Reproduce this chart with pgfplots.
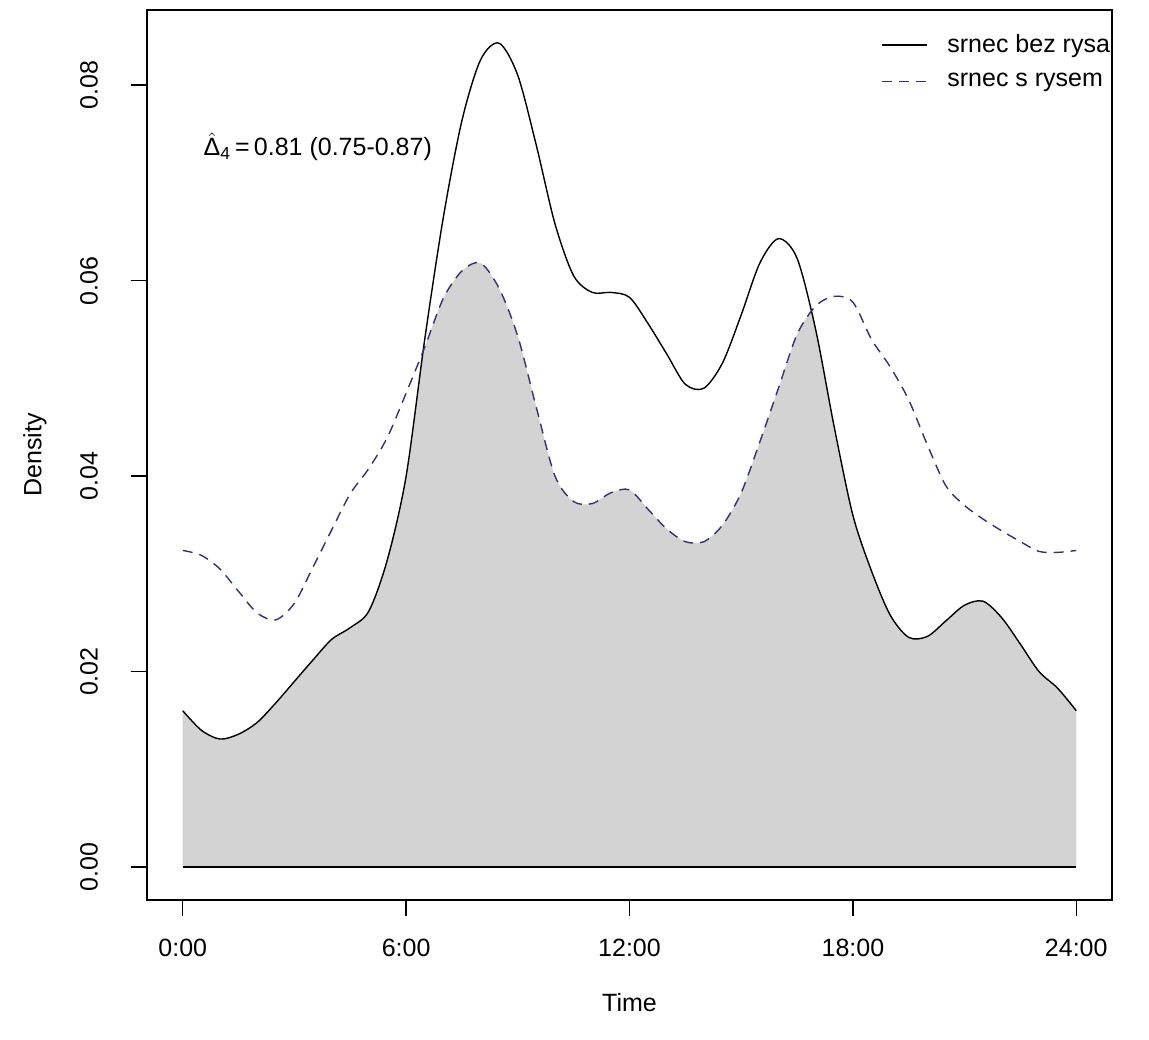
\documentclass[border=0pt]{standalone}
\usepackage{fontspec}
\setmainfont{Liberation Sans}
\usepackage{amsmath}
\usepackage{pgfplots}
\pgfplotsset{compat=1.18}
\usepackage{pgfplotstable}

% srnec bez rysa (solid)
\pgfplotstableread{
x y
0.0 0.0160
0.5 0.0140
1.0 0.0131
1.5 0.0136
2.0 0.0148
2.5 0.0168
3.0 0.0190
3.5 0.0212
4.0 0.0233
4.5 0.0245
5.0 0.0262
5.5 0.0315
6.0 0.0400
6.5 0.0540
7.0 0.0665
7.5 0.0764
8.0 0.0826
8.5 0.0843
9.0 0.0810
9.5 0.0738
10.0 0.0658
10.5 0.0605
11.0 0.0588
11.5 0.0588
12.0 0.0583
12.5 0.0556
13.0 0.0525
13.5 0.0494
14.0 0.0490
14.5 0.0516
15.0 0.0565
15.5 0.0618
16.0 0.0643
16.5 0.0623
17.0 0.0550
17.5 0.0450
18.0 0.0360
18.5 0.0303
19.0 0.0258
19.5 0.0235
20.0 0.0236
20.5 0.0252
21.0 0.0268
21.5 0.0272
22.0 0.0255
22.5 0.0228
23.0 0.0200
23.5 0.0183
24.0 0.0160
}\bez

% srnec s rysem (dashed)
\pgfplotstableread{
x y
0.0 0.0324
0.5 0.0319
1.0 0.0305
1.5 0.0282
2.0 0.0260
2.5 0.0253
3.0 0.0270
3.5 0.0307
4.0 0.0345
4.5 0.0382
5.0 0.0408
5.5 0.0440
6.0 0.0485
6.5 0.0532
7.0 0.0582
7.5 0.0610
8.0 0.0618
8.5 0.0592
9.0 0.0543
9.5 0.0470
10.0 0.0400
10.5 0.0374
11.0 0.0372
11.5 0.0383
12.0 0.0386
12.5 0.0366
13.0 0.0346
13.5 0.0333
14.0 0.0333
14.5 0.0350
15.0 0.0383
15.5 0.0435
16.0 0.0490
16.5 0.0545
17.0 0.0574
17.5 0.0584
18.0 0.0578
18.5 0.0540
19.0 0.0512
19.5 0.0478
20.0 0.0432
20.5 0.0390
21.0 0.0370
21.5 0.0356
22.0 0.0344
22.5 0.0333
23.0 0.0323
23.5 0.0322
24.0 0.0324
}\srys

% overlap (lower of the two curves)
\pgfplotstableread{
x y
0.0 0.0160
0.5 0.0140
1.0 0.0131
1.5 0.0136
2.0 0.0148
2.5 0.0168
3.0 0.0190
3.5 0.0212
4.0 0.0233
4.5 0.0245
5.0 0.0262
5.5 0.0315
6.0 0.0400
6.45 0.0528
6.5 0.0532
7.0 0.0582
7.5 0.0610
8.0 0.0618
8.5 0.0592
9.0 0.0543
9.5 0.0470
10.0 0.0400
10.5 0.0374
11.0 0.0372
11.5 0.0383
12.0 0.0386
12.5 0.0366
13.0 0.0346
13.5 0.0333
14.0 0.0333
14.5 0.0350
15.0 0.0383
15.5 0.0435
16.0 0.0490
16.5 0.0545
16.88 0.0567
17.0 0.0550
17.5 0.0450
18.0 0.0360
18.5 0.0303
19.0 0.0258
19.5 0.0235
20.0 0.0236
20.5 0.0252
21.0 0.0268
21.5 0.0272
22.0 0.0255
22.5 0.0228
23.0 0.0200
23.5 0.0183
24.0 0.0160
}\overlap

\definecolor{dashcol}{rgb}{0.2,0.2,0.42}
\definecolor{fillgray}{HTML}{D3D3D3}
\newcommand{\fs}{\fontsize{12.5}{15}\selectfont}

\begin{document}
\begin{tikzpicture}
\path[use as bounding box] (-73.5pt,-69.5pt) rectangle (501pt,450pt);
\begin{axis}[
  at={(0,0)}, anchor=south west,
  scale only axis, width=482.5pt, height=445pt,
  xmin=-0.96, xmax=24.96, ymin=-0.00337, ymax=0.0877,
  scaled y ticks=false, scaled x ticks=false,
  axis line style={line width=0.75pt},
  tick align=outside, xtick pos=bottom, ytick pos=left,
  major tick length=8pt,
  tick style={black, line width=0.75pt},
  xtick={0,6,12,18,24},
  xticklabels={0:00,6:00,12:00,18:00,24:00},
  ytick={0,0.02,0.04,0.06,0.08},
  yticklabels={0.00,0.02,0.04,0.06,0.08},
  xticklabel style={font=\fs, anchor=center, yshift=-16pt},
  yticklabel style={font=\fs, xshift=-21pt, rotate=90, anchor=center},
  xlabel={Time}, ylabel={Density},
  xlabel style={font=\fs, at={(axis description cs:0.5,-0.1157)}, anchor=center},
  ylabel style={font=\fs, at={(axis description cs:-0.1161,0.5)}, anchor=center},
  legend style={at={(axis description cs:0.754,0.982)}, anchor=north west,
    draw=none, fill=none, font=\fs, row sep=5pt},
  legend cell align=left,
  legend image code/.code={\draw[#1] (0pt,0pt) -- (22.5pt,0pt); \path (30.5pt,0pt);},
]
\addplot[fill=fillgray, draw=none, smooth, forget plot] table {\overlap} \closedcycle;
\addplot[black, line width=0.7pt, forget plot] coordinates {(0,0) (24,0)};
\addplot[black, line width=0.7pt, smooth] table {\bez};
\addlegendentry{srnec bez rysa}
\addplot[dashcol, line width=0.7pt, smooth, dash pattern=on 5pt off 3.5pt] table {\srys};
\addlegendentry{srnec s rysem}
\node[anchor=west, font=\fs, inner sep=0pt] at (axis cs:0.55,0.0737)
  {$\hat{\text{Δ}}_{\text{4}}$\,=\,0.81 (0.75-0.87)};
\end{axis}
\end{tikzpicture}
\end{document}
